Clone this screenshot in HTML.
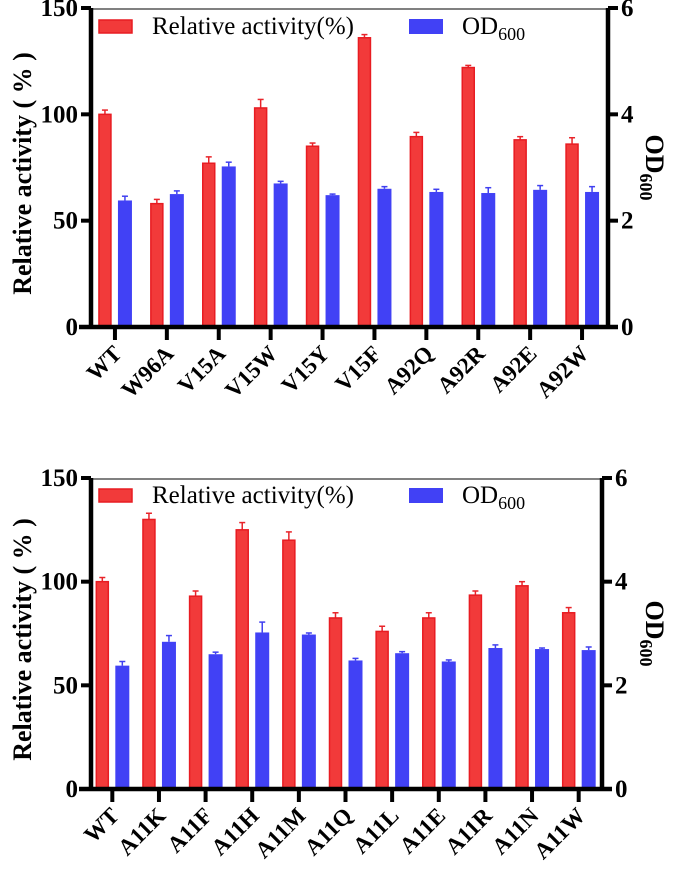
<!DOCTYPE html>
<html><head><meta charset="utf-8"><style>
body{margin:0;background:#fff;}
svg{display:block;}
text{font-family:"Liberation Serif",serif;}
</style></head><body>
<svg id="c" width="685" height="872" viewBox="0 0 685 872" xmlns="http://www.w3.org/2000/svg"></svg>
<script>
const catsA = ["WT","W96A","V15A","V15W","V15Y","V15F","A92Q","A92R","A92E","A92W"];
const actA = [100,58,77,103,85,136,89.5,122,88,86];
const actErrA = [2,2,3,4,1.5,1.5,2,1,1.5,3];
const odA = [2.38,2.5,3.02,2.7,2.48,2.6,2.54,2.52,2.58,2.54];
const odErrA = [0.08,0.06,0.08,0.04,0.02,0.04,0.05,0.1,0.08,0.1];

const catsB = ["WT","A11K","A11F","A11H","A11M","A11Q","A11L","A11E","A11R","A11N","A11W"];
const actB = [100,130,93,125,120,82.5,76,82.5,93.5,98,85];
const actErrB = [2,3,2.5,3.5,4,2.5,2.5,2.5,2,2,2.5];
const odB = [2.38,2.84,2.6,3.02,2.98,2.48,2.62,2.46,2.72,2.7,2.68];
const odErrB = [0.08,0.12,0.04,0.2,0.03,0.04,0.03,0.03,0.06,0.02,0.06];

const leftTicks = [0,50,100,150];
const rightTicks = [0,2,4,6];

const NS="http://www.w3.org/2000/svg";
const svg=document.getElementById('c');
function mk(tag,attrs,parent,text){const e=document.createElementNS(NS,tag);for(const k in attrs)e.setAttribute(k,attrs[k]);if(text!==undefined)e.textContent=text;(parent||svg).appendChild(e);return e;}

function chart(id,cats,act,actErr,od,odErr,cfg){
  const g=mk('g',{});
  
  
  const x0=cfg.x0,x1=cfg.x1,y0=cfg.y0,yTop=cfg.yTop;
  const band=(x1-x0)/cats.length;
  const yL=v=>y0-(v/150)*(y0-yTop);
  const yR=v=>y0-(v/6)*(y0-yTop);
  const xc=i=>x0+band*(i+0.5);
  const bw=12;
  cats.forEach((c,i)=>{
    const cx=xc(i);
    const rx=cx-10-bw/2;
    mk('line',{x1:cx-10,x2:cx-10,y1:yL(act[i]),y2:yL(act[i]+actErr[i]),stroke:'#e8242a','stroke-width':1.5},g);
    mk('line',{x1:cx-13,x2:cx-7,y1:yL(act[i]+actErr[i]),y2:yL(act[i]+actErr[i]),stroke:'#e8242a','stroke-width':1.5},g);
    const rb=mk('rect',{x:rx,y:yL(act[i]),width:bw,height:y0-yL(act[i]),fill:'#f23a3a',stroke:'#e81c22','stroke-width':1.5},g);
    
    
    mk('line',{x1:cx+10,x2:cx+10,y1:yR(od[i]),y2:yR(od[i]+odErr[i]),stroke:'#4040f0','stroke-width':1.5},g);
    mk('line',{x1:cx+7,x2:cx+13,y1:yR(od[i]+odErr[i]),y2:yR(od[i]+odErr[i]),stroke:'#4040f0','stroke-width':1.5},g);
    const bb=mk('rect',{x:cx+10-bw/2-1,y:yR(od[i]),width:bw+2,height:y0-yR(od[i]),fill:'#4141f5'},g);
    
    
    mk('line',{x1:xc(i),x2:xc(i),y1:y0,y2:y0+13,stroke:'#000','stroke-width':4},g);
    const t=mk('text',{x:0,y:0,'text-anchor':'end','font-size':23,'font-weight':'bold',transform:`translate(${cx+8},${y0+28}) rotate(-45)`},g,c);
    
    
  });
  mk('line',{x1:x0-10,x2:x1+10,y1:y0,y2:y0,stroke:'#000','stroke-width':4.5},g);
  mk('line',{x1:x0+2,x2:x0+2,y1:yTop,y2:y0,stroke:'#000','stroke-width':4.5},g);
  mk('line',{x1:x1,x2:x1,y1:yTop,y2:y0,stroke:'#000','stroke-width':4.5},g);
  mk('line',{x1:x0,x2:x1,y1:yTop+1,y2:yTop+1,stroke:'#000','stroke-width':1},g);
  leftTicks.forEach(v=>{
    mk('line',{x1:x0-8,x2:x0+2,y1:yL(v),y2:yL(v),stroke:'#000','stroke-width':4},g);
    const t=mk('text',{x:x0-11,y:yL(v)+8,'text-anchor':'end','font-size':25,'font-weight':'bold'},g,String(v));
    
    
  });
  rightTicks.forEach(v=>{
    mk('line',{x1:x1,x2:x1+10,y1:yR(v),y2:yR(v),stroke:'#000','stroke-width':4},g);
    const t=mk('text',{x:x1+13,y:yR(v)+8,'font-size':25,'font-weight':'bold'},g,String(v));
    
    
  });
  const yt=mk('text',{x:0,y:0,'text-anchor':'middle','font-size':26,'font-weight':'bold',transform:`translate(31,${(y0+yTop)/2+6}) rotate(-90)`},g,'Relative activity ( % )');
  
  
  const rt=mk('text',{x:0,y:0,'text-anchor':'middle','font-size':26,'font-weight':'bold',transform:`translate(646,${(y0+yTop)/2}) rotate(90)`},g);
  
  
  mk('tspan',{},rt,'OD');
  mk('tspan',{'font-size':18,dy:6},rt,'600');
  const ly=yTop+cfg.legDy;
  const l1=mk('rect',{x:99,y:ly-6,width:33,height:13,fill:'#f23a3a',stroke:'#e81c22','stroke-width':1.5},g);
  
  
  const lt1=mk('text',{x:152,y:ly+8,'font-size':25},g,'Relative activity(%)');
  
  
  const l2=mk('rect',{x:409,y:ly-7,width:34,height:15,fill:'#4141f5'},g);
  
  
  const lt2=mk('text',{x:462,y:ly+8,'font-size':25},g);
  
  
  mk('tspan',{},lt2,'OD');
  mk('tspan',{'font-size':18,dy:6},lt2,'600');
}
chart('chart-top',catsA,actA,actErrA,odA,odErrA,{x0:89,x1:608,y0:327,yTop:8,legDy:18});
chart('chart-bottom',catsB,actB,actErrB,odB,odErrB,{x0:89,x1:602,y0:789,yTop:478,legDy:17});
</script>
</body></html>
